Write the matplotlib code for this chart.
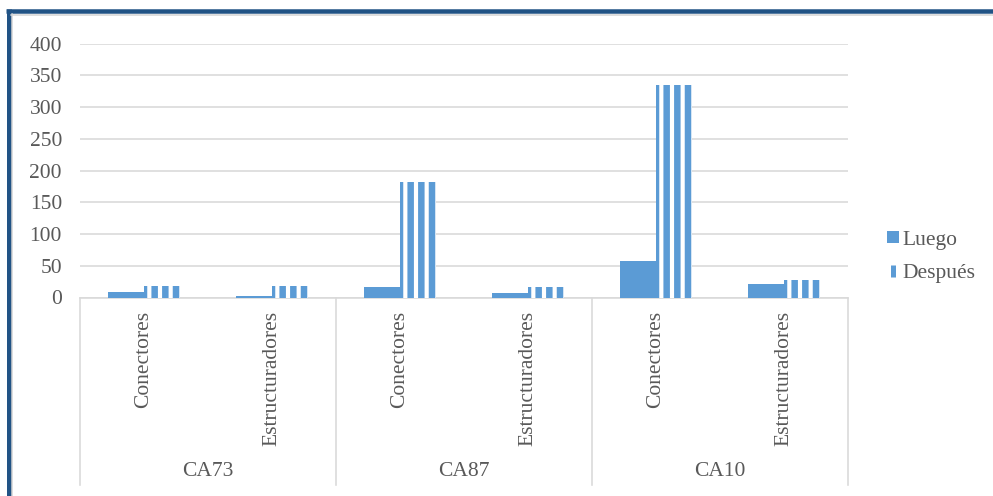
import numpy as np
import matplotlib.pyplot as plt
from matplotlib.lines import Line2D
import matplotlib.transforms as mtransforms

# data
groups = ["CA73", "CA87", "CA10"]
subcats = ["Conectores", "Estructuradores"]
luego = [8, 2.5, 17, 7, 57, 22]
despues = [18, 18, 182, 17, 335, 27]

DPI = 64
W, H = 993, 496


def pt(px):
    # pixels -> points at this dpi
    return px * 72 / DPI


blue = "#5B9BD5"
text_gray = "#595959"
grid_gray = "#D9D9D9"
frame_blue = "#215385"

plt.rcParams["font.family"] = ["Liberation Serif", "DejaVu Serif"]
plt.rcParams["hatch.linewidth"] = pt(6.5)
plt.rcParams["hatch.color"] = blue

fig = plt.figure(figsize=(W / DPI, H / DPI), dpi=DPI)
ax = fig.add_axes([80 / W, 1 - 297.5 / H, 768 / W, (297.5 - 43.7) / H])

fs = pt(21.5)
x = np.arange(len(groups) * len(subcats))
bw = 0.285

ax.bar(x - bw / 2, luego, bw, color=blue, linewidth=0, zorder=3)
ax.bar(x + bw / 2, despues, bw, facecolor="white", edgecolor=blue,
       hatch="|", linewidth=0, zorder=3)

ax.set_xlim(-0.5, len(x) - 0.5)
ax.set_ylim(0, 400)
ax.set_yticks(np.arange(0, 401, 50))
ax.yaxis.grid(True, color=grid_gray, linewidth=pt(1.6))
ax.set_axisbelow(True)

for s in ["top", "right", "left"]:
    ax.spines[s].set_visible(False)
ax.spines["bottom"].set_color(grid_gray)
ax.spines["bottom"].set_linewidth(pt(1.6))

ax.tick_params(axis="y", length=0, pad=pt(18), labelsize=fs, labelcolor=text_gray)
ax.set_xticks(x)
ax.set_xticklabels(subcats * len(groups), rotation=90, va="top", ha="center")
ax.tick_params(axis="x", length=0, pad=pt(13), labelsize=fs, labelcolor=text_gray)

# multi-level category axis: separators and group labels
trans = mtransforms.blended_transform_factory(ax.transData, ax.transAxes)
y_low = -(485 - 297.5) / (297.5 - 43.7)
for b in np.arange(-0.5, len(x), len(subcats)):
    ax.add_line(Line2D([b, b], [0, y_low], transform=trans, color=grid_gray,
                       linewidth=pt(1.6), clip_on=False))
y_grp = -(471.7 - 297.5) / (297.5 - 43.7)
for i, g in enumerate(groups):
    ax.text(i * len(subcats) + (len(subcats) - 1) / 2, y_grp, g, transform=trans,
            ha="center", va="center", fontsize=fs, color=text_gray)

# legend
handles = [
    Line2D([], [], linestyle="none", marker="s", markersize=pt(11.5),
           markerfacecolor=blue, markeredgewidth=0),
    Line2D([], [], linestyle="none", marker="|", markersize=pt(12),
           markeredgecolor=blue, markeredgewidth=pt(5)),
]
ax.legend(handles, ["Luego", "Después"], loc="center left",
          bbox_to_anchor=(887 / W, 1 - 256.5 / H), bbox_transform=fig.transFigure,
          frameon=False, fontsize=fs, labelcolor=text_gray, borderpad=0,
          borderaxespad=0, handlelength=0.6, handletextpad=0.12, labelspacing=0.62)

# outer frame (blue, with light shadow)
fig.add_artist(Line2D([6 / W, 1], [1 - 11 / H, 1 - 11 / H], transform=fig.transFigure,
                      color=frame_blue, linewidth=pt(4.5), solid_capstyle="butt"))
fig.add_artist(Line2D([8.5 / W, 8.5 / W], [0, 1 - 9 / H], transform=fig.transFigure,
                      color=frame_blue, linewidth=pt(5), solid_capstyle="butt"))
fig.add_artist(Line2D([11 / W, 1], [1 - 14.5 / H, 1 - 14.5 / H], transform=fig.transFigure,
                      color="#D4D4D4", linewidth=pt(1.5)))
fig.add_artist(Line2D([12 / W, 12 / W], [0, 1 - 14 / H], transform=fig.transFigure,
                      color="#D4D4D4", linewidth=pt(1.5)))

fig.savefig("out.png", dpi=DPI)
